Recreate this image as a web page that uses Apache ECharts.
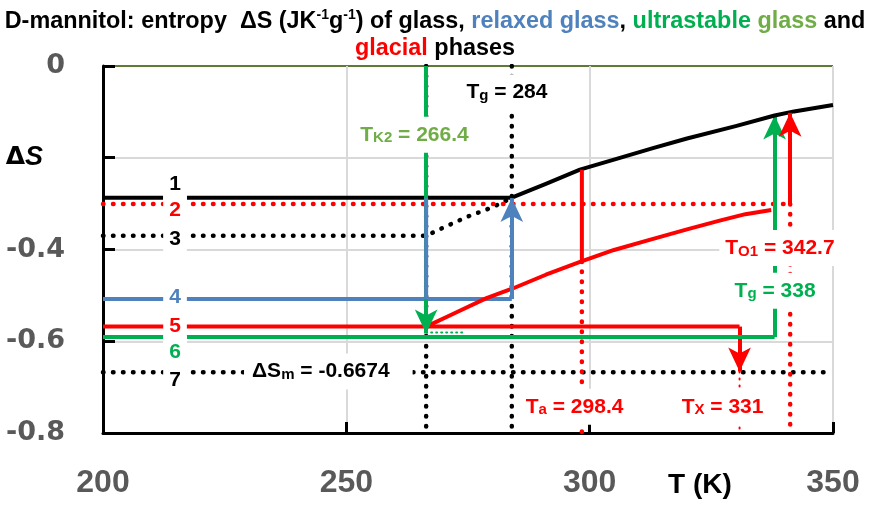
<!DOCTYPE html>
<html><head><meta charset="utf-8">
<script src="https://cdn.jsdelivr.net/npm/echarts@6/dist/echarts.min.js"></script>
<style>html,body{margin:0;padding:0;background:#fff}#c{width:870px;height:507px}</style>
</head><body><div id="c"></div>
<script>
const NARROW = "'Liberation Sans Narrow', 'Liberation Sans', Arial, sans-serif";
const WIDE = "'Liberation Sans', Arial, sans-serif";
const DEJAVU = "'DejaVu Sans', sans-serif";

const RED = '#FF0000', BLUE = '#4F81BD', GREEN = '#00B050', OLIVE = '#70AD47', BLACK = '#000000';

// axes
const xTicks = [200, 250, 300, 350];
const yTicks = [0, -0.2, -0.4, -0.6, -0.8];
const yTickText = ['0', '{d|Δ}{s|S}', '-0.4', '-0.6', '-0.8'];

// 1: glass level
const glassT = [200, 284];
const glassS = [-0.287, -0.287];
// supercooled liquid curve
const liquidT = [284, 291, 298, 305, 313, 320, 330, 338, 342, 350];
const liquidS = [-0.287, -0.257, -0.226, -0.204, -0.179, -0.158, -0.131, -0.108, -0.099, -0.085];
// 2: red dotted level
const line2T = [200, 341.2];
const line2S = [-0.301, -0.301];
// 3: black dotted level joining the liquid
const line3T = [200, 266.4, 270, 275, 280, 283.5];
const line3S = [-0.370, -0.370, -0.352, -0.328, -0.308, -0.290];
// 4: relaxed glass (blue)
const line4T = [200, 284];
const line4S = [-0.508, -0.508];
const blueDropT = [266.4, 266.4];
const blueDropS = [-0.288, -0.508];
// 5: glacial level (red)
const line5T = [200, 330.8];
const line5S = [-0.568, -0.568];
// glacial curve (red)
const glacialT = [266.4, 272, 278.8, 284.2, 291, 298.3, 305, 312.3, 320, 326.7, 332, 337.3];
const glacialS = [-0.568, -0.540, -0.506, -0.485, -0.455, -0.426, -0.401, -0.379, -0.356, -0.337, -0.323, -0.314];
// 6: ultrastable glass level (green)
const line6T = [200, 338];
const line6S = [-0.591, -0.591];
const greenDotT = [266.4, 274];
const greenDotS = [-0.581, -0.581];
// 7: melting entropy
const line7T = [200, 350];
const line7S = [-0.6674, -0.6674];
// vertical markers
const tK2 = 266.4, tg = 284, ta = 298.4, tx = 330.8, tgUS = 338, tO1 = 341.2;
const taS = [-0.426, -0.226];   // red solid at Ta (glacial -> liquid)
// arrows [x1, y1, x2, y2]
const arrowBlue = [284, -0.508, 284, -0.288];
const arrowGreenDown = [266.4, 0, 266.4, -0.583];
const arrowGreenUp = [338, -0.591, 338, -0.108];
const arrowRedDown = [330.8, -0.568, 330.8, -0.666];
const arrowRedUp = [341.2, -0.301, 341.2, -0.102];

// annotations
const noteT = [214.8, 214.8, 214.8, 214.8, 214.8, 214.8, 214.8, 283.0, 264.0, 339.1, 338.1, 296.9, 327.3, 246.3];
const noteS = [-0.2583, -0.315, -0.378, -0.5046, -0.5667, -0.6245, -0.6856, -0.057, -0.150, -0.397, -0.490, -0.743, -0.743, -0.666];
const noteText = ['1', '2', '3', '4', '5', '6', '7', 'T{s|g} = 284', 'T{s|K2} = 266.4', 'T{s|O1} = 342.7', 'T{s|g} = 338', 'T{s|a} = 298.4', 'T{s|X} = 331', 'ΔS{s|m} = -0.6674'];
const noteColor = [BLACK, RED, BLACK, BLUE, RED, GREEN, BLACK, BLACK, OLIVE, RED, GREEN, RED, RED, BLACK];

const zip = (xs, ys) => xs.map((x, i) => [x, ys[i]]);
const DOT = [0.5, 9.5];

function line(xs, ys, color, width, type, z) {
  return {
    type: 'line', data: zip(xs, ys), showSymbol: false, symbol: 'none', z: z || 2,
    silent: true, animation: false,
    lineStyle: { color: color, width: width, type: type || 'solid', cap: type && type !== 'solid' ? 'round' : 'butt', join: 'round' }
  };
}
function arrow(a, color, z) {
  return {
    type: 'lines', coordinateSystem: 'cartesian2d', polyline: false, z: z || 3, silent: true, animation: false,
    symbol: ['none', 'arrow'], symbolSize: [1, [17, 24]],
    lineStyle: { color: color, width: 4, opacity: 1, curveness: 0 },
    data: [{ coords: [[a[0], a[1]], [a[2], a[3]]] }]
  };
}

const TF = 23.4;
const chart = echarts.init(document.getElementById('c'));
chart.setOption({
  animation: false,
  backgroundColor: '#fff',
  title: {
    left: 'center', top: 8, padding: 0,
    text: 'D-mannitol: entropy  ΔS (JK{sup|-1}g{sup|-1}) of glass, {blue|relaxed glass}, {green|ultrastable} {olive|glass} and\n{red|glacial} phases',
    textStyle: {
      fontFamily: NARROW, fontSize: TF, fontWeight: 'bold', color: '#000', lineHeight: 27,
      rich: {
        sup: { fontFamily: NARROW, fontSize: 14, fontWeight: 'bold', color: '#000', lineHeight: 14, verticalAlign: 'top' },
        blue: { fontFamily: NARROW, fontSize: TF, fontWeight: 'bold', color: BLUE, lineHeight: 27 },
        green: { fontFamily: NARROW, fontSize: TF, fontWeight: 'bold', color: GREEN, lineHeight: 27 },
        olive: { fontFamily: NARROW, fontSize: TF, fontWeight: 'bold', color: OLIVE, lineHeight: 27 },
        red: { fontFamily: NARROW, fontSize: TF, fontWeight: 'bold', color: RED, lineHeight: 27 }
      }
    }
  },
  grid: { left: 103, right: 37, top: 66, bottom: 74, containLabel: false },
  xAxis: {
    type: 'value', min: xTicks[0], max: xTicks[xTicks.length - 1], interval: 50,
    axisLine: { show: true, onZero: false, lineStyle: { color: '#000', width: 3 } },
    axisTick: { show: true, inside: true, length: 11, lineStyle: { color: '#000', width: 3 } },
    splitLine: { show: true, lineStyle: { color: '#D9D9D9', width: 2 } },
    axisLabel: { margin: 34, fontFamily: WIDE, fontSize: 32, fontWeight: 'bold', color: '#595959' }
  },
  yAxis: {
    type: 'value', min: -0.8, max: 0, interval: 0.2,
    axisLine: { show: true, onZero: false, lineStyle: { color: '#000', width: 3 } },
    axisTick: { show: true, inside: true, length: 12, lineStyle: { color: '#000', width: 3 } },
    splitLine: { show: true, lineStyle: { color: ['#D9D9D9', '#D9D9D9', '#D9D9D9', '#D9D9D9', '#5E7A34'], width: 2 } },
    axisLabel: {
      margin: 38, fontFamily: DEJAVU, fontSize: 27, fontWeight: 'bold', color: '#595959',
      formatter: v => { const i = yTicks.findIndex(t => Math.abs(t - v) < 1e-9); return i >= 0 ? yTickText[i] : ''; },
      rich: {
        d: { fontFamily: DEJAVU, fontSize: 25, fontWeight: 'bold', color: '#000' },
        s: { fontFamily: WIDE, fontSize: 27, fontWeight: 'bold', fontStyle: 'italic', color: '#000', padding: [0, 22, 0, 0] }
      }
    }
  },
  graphic: [{
    type: 'text', x: 700, y: 485, silent: true,
    style: { text: 'T (K)', fill: '#000', font: "bold 28px 'Liberation Sans', Arial, sans-serif", align: 'center', verticalAlign: 'middle' }
  }],
  series: [
    line([tK2, tK2], [0, -0.8], BLACK, 4.5, DOT, 2),
    line([tg, tg], [0, -0.8], BLACK, 4.5, DOT, 2),
    line(line7T, line7S, BLACK, 4.5, DOT, 2),
    line([ta, ta], [taS[0], -0.8], RED, 4.5, DOT, 2),
    line([tO1, tO1], [line2S[0], -0.8], RED, 4.5, DOT, 2),
    line([tx, tx], [arrowRedDown[3], -0.8], RED, 2, [1, 6], 2),
    line(line3T, line3S, BLACK, 4.5, DOT, 2),
    line(line2T, line2S, RED, 4.5, DOT, 2),
    line(greenDotT, greenDotS, GREEN, 2, [1, 4], 2),
    line(glassT, glassS, BLACK, 4, 'solid', 3),
    line(liquidT, liquidS, BLACK, 4, 'solid', 3),
    line(line6T, line6S, GREEN, 4, 'solid', 3),
    arrow(arrowGreenUp, GREEN, 3),
    line(line5T, line5S, RED, 4, 'solid', 3),
    arrow(arrowRedDown, RED, 3),
    line(line4T, line4S, BLUE, 4, 'solid', 3),
    line(glacialT, glacialS, RED, 4, 'solid', 3),
    line([ta, ta], taS, RED, 4, 'solid', 3),
    arrow(arrowGreenDown, GREEN, 4),
    line(blueDropT, blueDropS, BLUE, 4, 'solid', 4),
    arrow(arrowBlue, BLUE, 4),
    arrow(arrowRedUp, RED, 4),
    {
      type: 'scatter', z: 10, silent: true, animation: false, symbolSize: 0,
      itemStyle: { color: 'rgba(0,0,0,0)' },
      data: noteT.map((t, i) => ({
        value: [t, noteS[i]],
        label: {
          show: true, position: 'inside', formatter: noteText[i], color: noteColor[i], opacity: 1,
          fontFamily: NARROW, fontSize: 21, fontWeight: 'bold', lineHeight: 22,
          backgroundColor: '#fff',
          padding: i === 13 ? [7, 23, 7, 8] : (i < 7 ? [6, 6] : [7, 6]),
          rich: { s: { fontFamily: NARROW, fontSize: 15, fontWeight: 'bold', color: noteColor[i], lineHeight: 4, verticalAlign: 'bottom' } }
        }
      }))
    }
  ]
});
</script></body></html>
